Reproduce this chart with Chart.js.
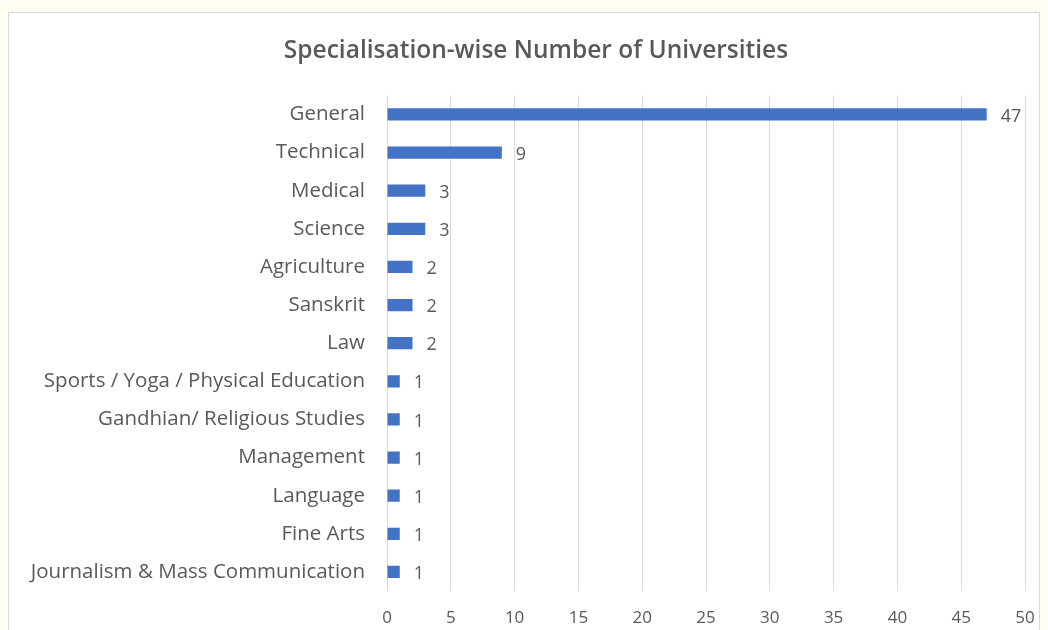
<!DOCTYPE html>
<html>
<head>
<meta charset="utf-8">
<script src="https://cdn.jsdelivr.net/npm/chart.js@4.4.0/dist/chart.umd.min.js"></script>
<style>
  html, body { margin: 0; padding: 0; background: #fffdf4; }
  #frame {
    position: absolute; left: 8px; top: 12px; width: 1032px; height: 630px;
    background: #ffffff; border: 1px solid #d9d9d9; box-sizing: border-box;
  }
  #wrap { position: absolute; left: 0; top: 0; width: 1048px; height: 630px; }
</style>
</head>
<body>
<div id="frame"></div>
<div id="wrap"><canvas id="myChart"></canvas></div>
<script>
// data
const categories = [
    'General', 'Technical', 'Medical', 'Science', 'Agriculture', 'Sanskrit', 'Law',
    'Sports / Yoga / Physical Education', 'Gandhian/ Religious Studies', 'Management',
    'Language', 'Fine Arts', 'Journalism & Mass Communication'
]
const universities = [47, 9, 3, 3, 2, 2, 2, 1, 1, 1, 1, 1, 1]
const xTicks = [0, 5, 10, 15, 20, 25, 30, 35, 40, 45, 50]

const FONT = "'Open Sans', sans-serif"
const GREY = '#595959'

// draws the value right of every bar
const valueLabels = {
    id: 'valueLabels',
    afterDatasetsDraw(chart) {
        const ctx = chart.ctx
        const meta = chart.getDatasetMeta(0)
        ctx.save()
        ctx.font = '18px ' + FONT
        ctx.fillStyle = GREY
        ctx.textBaseline = 'middle'
        meta.data.forEach(function (bar, i) {
            ctx.fillText(chart.data.datasets[0].data[i], bar.x + 14, bar.y + 2)
        })
        ctx.restore()
    }
}

let ctx = document.getElementById('myChart')
let myChart = new Chart(ctx, {
    type: 'bar',
    data: {
        labels: categories,
        datasets: [{
            label: 'Number of Universities',
            data: universities,
            backgroundColor: '#4472c4',
            barPercentage: 0.32,
            categoryPercentage: 1
        }]
    },
    options: {
        indexAxis: 'y',
        responsive: true,
        maintainAspectRatio: false,
        animation: false,
        layout: { padding: { left: 24, right: 0, top: 36, bottom: 3 } },
        plugins: {
            legend: { display: false },
            tooltip: { enabled: false },
            title: {
                display: true,
                text: 'Specialisation-wise Number of Universities',
                color: GREY,
                font: { family: FONT, size: 24.5, weight: '600' },
                padding: { top: 0, bottom: 30 }
            }
        },
        scales: {
            x: {
                min: 0,
                max: 50,
                afterBuildTicks: function (scale) {
                    scale.ticks = xTicks.map(v => ({ value: v }))
                },
                afterFit: function (scale) {
                    scale.height = 36
                    scale.paddingRight = 23
                },
                ticks: { color: GREY, font: { family: FONT, size: 17 }, padding: 17 },
                grid: { color: '#d9d9d9', drawTicks: false },
                border: { display: false }
            },
            y: {
                afterFit: function (scale) { scale.width = 363 },
                ticks: { color: GREY, font: { family: FONT, size: 20.5 }, padding: 14 },
                grid: { display: false },
                border: { display: false }
            }
        }
    },
    plugins: [valueLabels]
});
</script>
</body>
</html>
